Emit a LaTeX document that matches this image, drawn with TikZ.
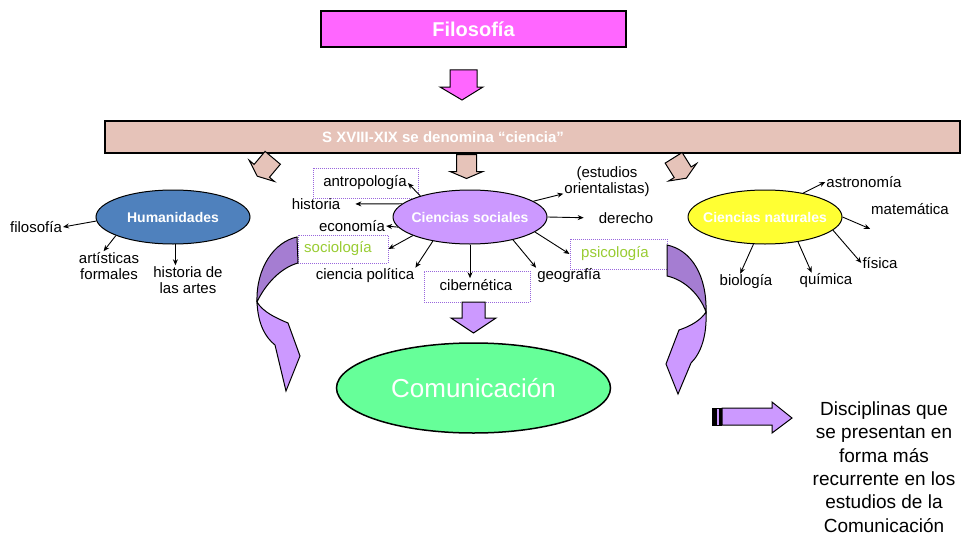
\documentclass[tikz,border=0pt]{standalone}
\usepackage{fontspec}
\setmainfont{Liberation Sans}
\usepackage{tikz}
\usetikzlibrary{arrows.meta,shapes.geometric}

\definecolor{filpink}{HTML}{FF66FF}
\definecolor{bandtan}{HTML}{E6C3B9}
\definecolor{humblue}{HTML}{4F81BD}
\definecolor{soclilac}{HTML}{CC99FF}
\definecolor{natyellow}{HTML}{FFFF33}
\definecolor{comgreen}{HTML}{66FF99}
\definecolor{boxviolet}{HTML}{9966DD}
\definecolor{labgreen}{HTML}{99CC33}
\definecolor{curvedark}{HTML}{A57DD2}

\begin{document}
\begin{tikzpicture}[x=1pt, y=-1pt]
    \tikzstyle{lab} = [inner sep=1pt, font=\fontsize{15}{16}\selectfont, align=center]
    \tikzstyle{field} = [ellipse, draw, line width=1pt, inner sep=0pt, minimum width=154pt, minimum height=54pt, text=white, font=\bfseries\fontsize{14}{16}\selectfont]
    \tikzstyle{dotbox} = [rectangle, draw=boxviolet, densely dotted, line width=1pt, inner sep=0pt]
    \tikzstyle{link} = [-{Stealth[length=6pt,width=5pt]}, line width=0.9pt]
    \tikzstyle{block} = [draw, line width=1pt, line join=miter]
    \tikzset{bandarrow/.pic={
        \draw[block, fill=bandtan] (-10,-12) -- (10,-12) -- (10,5) -- (16.5,5) -- (0,12) -- (-16.5,5) -- (-10,5) -- cycle;
    }}

    \useasboundingbox (0,0) rectangle (966,535);

    % Top of the scheme
    \node[draw, line width=1.5pt, fill=filpink, minimum width=305pt, minimum height=36pt, text=white, font=\bfseries\fontsize{20}{24}\selectfont] (filosofia) at (473.5,29) {Filosofía};
    \draw[block, fill=filpink] (450,70) -- (477,70) -- (477,87) -- (483,87) -- (462,100) -- (440,87) -- (450,87) -- cycle;
    \node[draw, line width=1.5pt, fill=bandtan, minimum width=855pt, minimum height=32pt] (siglo) at (532.5,137) {};
    \node[text=white, font=\bfseries\fontsize{15}{18}\selectfont] (siglotext) at (443,137) {S XVIII-XIX se denomina “ciencia”};
    \foreach \px/\py/\ang in {265/167/-40, 466.5/166.5/0, 680/168/32}
        \pic[rotate=\ang] at (\px,\py) {bandarrow};

    % Dotted boxes
    \node[dotbox, minimum width=105pt, minimum height=30pt] (antrobox) at (365.5,183) {};
    \node[dotbox, minimum width=90pt, minimum height=28pt] (sociobox) at (343,249) {};
    \node[dotbox, minimum width=106pt, minimum height=31pt] (ciberbox) at (477,286.5) {};
    \node[dotbox, minimum width=97pt, minimum height=30pt] (psicobox) at (618.5,254) {};

    % Fields
    \node[field, fill=humblue] (hum) at (173,217) {\makebox[0pt]{Humanidades}};
    \node[field, fill=soclilac] (soc) at (470,217) {\makebox[0pt]{Ciencias sociales}};
    \node[field, fill=natyellow] (nat) at (765,217) {\makebox[0pt]{Ciencias naturales}};
    \node[field, fill=comgreen, line width=1.5pt, minimum width=274pt, minimum height=90pt, font=\fontsize{26}{30}\selectfont] (com) at (473.5,388) {\makebox[0pt]{Comunicación}};

    % Disciplines
    \node[lab] (hfilo) at (36,227) {filosofía};
    \node[lab] (art) at (109,266) {artísticas\\formales};
    \node[lab] (hda) at (188,280) {historia de\\las artes};
    \node[lab] (antro) at (365,183) {antropología};
    \node[lab] (hist) at (316,204) {historia};
    \node[lab] (eco) at (352,226) {economía};
    \node[lab, text=labgreen] (socio) at (338,249) {sociología};
    \node[lab] (cpol) at (365,276) {ciencia política};
    \node[lab] (ciber) at (476,285) {cibernética};
    \node[lab] (geo) at (569,276) {geografía};
    \node[lab, text=labgreen] (psico) at (615,254) {psicología};
    \node[lab] (der) at (626,218) {derecho};
    \node[lab] (orient) at (607,182) {(estudios\\orientalistas)};
    \node[lab] (astro) at (864,182) {astronomía};
    \node[lab] (mat) at (910,209) {matemática};
    \node[lab] (fis) at (880,263) {física};
    \node[lab] (qui) at (826,281) {química};
    \node[lab] (bio) at (746,282) {biología};

    % Links
    \draw[link] (hum.183) -- (hfilo.east);
    \draw[link] (hum.198) -- (art.110);
    \draw[link] (hum.275) -- (hum.275 |- hda.north);
    \draw[link, shorten >=14pt] (soc.169) -- (hist.east);
    \draw[link, shorten >=14pt] (soc.east) -- (der.west);
    \draw[link] (soc.south) -- (soc.south |- ciber.north);
    \foreach \a/\b in {157/antro.east, 188/eco.east, 198/sociobox.east, 213/cpol.north east, 332/geo.north west, 347/psicobox.west, 14/orient.195}
        \draw[link] (soc.\a) -- (\b);
    \foreach \a/\b in {32/astro.west, 349/fis.west, 323/qui.150, 247/bio.125}
        \draw[link] (nat.\a) -- (\b);
    \draw[link] (nat.east) -- ([yshift=-13pt]mat.south west);

    % Curved arrows towards Comunicacion
    \draw[block, fill=curvedark] (297,237) .. controls (274,242) and (256,268) .. (257,302) .. controls (265,285) and (280,268) .. (298,263) -- cycle;
    \draw[block, fill=soclilac] (257,302) .. controls (258,324) and (265,337) .. (275,345) -- (286,391) -- (300,356) -- (288,323) .. controls (276,318) and (263,312) .. (257,302) -- cycle;
    \draw[block, fill=curvedark] (667,245) .. controls (691,250) and (707,275) .. (706,312) .. controls (700,295) and (685,280) .. (667,276) -- cycle;
    \draw[block, fill=soclilac] (706,312) .. controls (707,336) and (701,353) .. (691,363) -- (678,394) -- (666,364) -- (679,330) .. controls (691,326) and (701,320) .. (706,312) -- cycle;
    \draw[block, fill=soclilac] (462,302) -- (485,302) -- (485,318) -- (496,318) -- (473.5,333) -- (451,318) -- (462,318) -- cycle;

    % Legend
    \draw[block, fill=black] (712,408) rectangle (716,425);
    \draw[block, fill=soclilac] (716,408) rectangle (719,425);
    \draw[block, fill=black] (719,408) rectangle (721,425);
    \draw[block, fill=soclilac] (722,408) -- (772,408) -- (772,402) -- (792,418) -- (772,433) -- (772,425) -- (722,425) -- cycle;
    \node[font=\fontsize{19}{23.3}\selectfont, align=center] (legend) at (884,467) {Disciplinas que\\se presentan en\\forma más\\recurrente en los\\estudios de la\\Comunicación};
\end{tikzpicture}
\end{document}
